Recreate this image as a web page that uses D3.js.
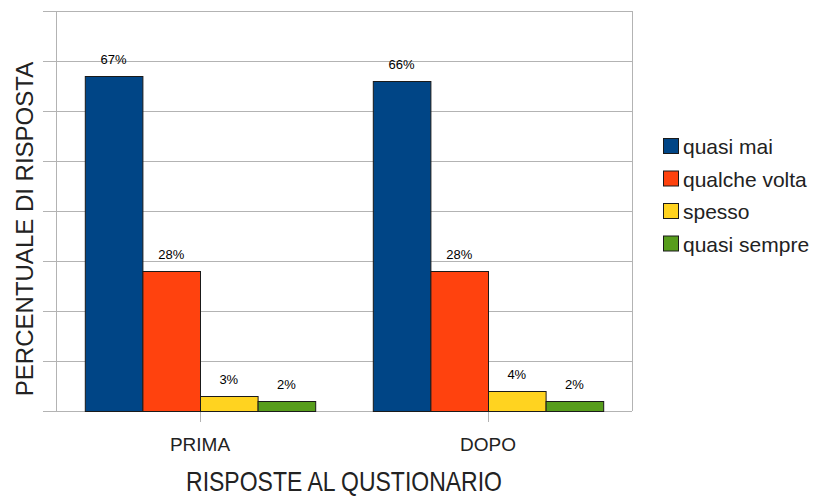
<!DOCTYPE html>
<html>
<head>
<meta charset="utf-8">
<script src="https://cdn.jsdelivr.net/npm/d3@7"></script>
<style>
  body { margin: 0; background: #fff; }
  text { font-family: "Liberation Sans", Arial, sans-serif; }
</style>
</head>
<body>
<script>
const categorie = ['PRIMA', 'DOPO']
const serie = ['quasi mai', 'qualche volta', 'spesso', 'quasi sempre']
const valori = {
  'PRIMA': [67, 28, 3, 2],
  'DOPO': [66, 28, 4, 2]
}
const etichette = {
  'PRIMA': ['67%', '28%', '3%', '2%'],
  'DOPO': ['66%', '28%', '4%', '2%']
}
const colori = ['#004586', '#ff420e', '#ffd320', '#579d1c']
const grigliaY = [0, 10, 20, 30, 40, 50, 60, 70, 80]

const larghezza = 815
const altezza = 496
const area = {sinistra: 56, destra: 632, alto: 11, basso: 411}

const svg = d3.select('body').append('svg')
  .attr('width', larghezza).attr('height', altezza)

const y = d3.scaleLinear().domain([0, 80]).range([area.basso, area.alto])
const x = d3.scaleBand().domain(categorie).range([area.sinistra, area.destra])
const xSerie = d3.scaleBand().domain(serie)
  .range([x.bandwidth() * 0.1, x.bandwidth() * 0.9])

// griglia orizzontale
svg.append('g').selectAll('line')
  .data(grigliaY)
  .join('line')
  .attr('x1', 43).attr('x2', area.destra)
  .attr('y1', d => y(d) + 0.5).attr('y2', d => y(d) + 0.5)
  .attr('stroke', '#b3b3b3').attr('stroke-width', 1)

// bordi verticali
svg.append('line')
  .attr('x1', area.sinistra + 0.5).attr('x2', area.sinistra + 0.5)
  .attr('y1', area.alto).attr('y2', area.basso)
  .attr('stroke', '#b3b3b3')
svg.append('line')
  .attr('x1', area.destra + 0.5).attr('x2', area.destra + 0.5)
  .attr('y1', area.alto).attr('y2', area.basso)
  .attr('stroke', '#b3b3b3')

// tacche asse x
svg.append('g').selectAll('line')
  .data(categorie)
  .join('line')
  .attr('x1', d => x(d) + x.bandwidth() / 2 + 0.5)
  .attr('x2', d => x(d) + x.bandwidth() / 2 + 0.5)
  .attr('y1', area.basso).attr('y2', area.basso + 11)
  .attr('stroke', '#b3b3b3')

// barre
const gruppi = svg.append('g').selectAll('g')
  .data(categorie)
  .join('g')
  .attr('transform', d => 'translate(' + x(d) + ',0)')

gruppi.selectAll('rect')
  .data(c => serie.map((s, i) => ({serie: s, valore: valori[c][i], colore: colori[i]})))
  .join('rect')
  .attr('x', d => xSerie(d.serie) + 0.5)
  .attr('y', d => y(d.valore) + 0.5)
  .attr('width', xSerie.bandwidth())
  .attr('height', d => area.basso - y(d.valore))
  .attr('fill', d => d.colore)
  .attr('stroke', '#1a1a1a')
  .attr('stroke-width', 1)

gruppi.selectAll('text')
  .data(c => serie.map((s, i) => ({serie: s, valore: valori[c][i], testo: etichette[c][i]})))
  .join('text')
  .attr('x', d => xSerie(d.serie) + xSerie.bandwidth() / 2)
  .attr('y', d => y(d.valore) - 12)
  .attr('text-anchor', 'middle')
  .attr('font-size', 13)
  .attr('fill', '#000')
  .text(d => d.testo)

// etichette categorie
svg.append('g').selectAll('text')
  .data(categorie)
  .join('text')
  .attr('x', d => x(d) + x.bandwidth() / 2)
  .attr('y', 451)
  .attr('text-anchor', 'middle')
  .attr('font-size', 19)
  .attr('fill', '#222')
  .text(d => d)

// titoli assi
svg.append('text')
  .attr('transform', 'translate(344,491) scale(1,1.18)')
  .attr('text-anchor', 'middle')
  .attr('font-size', 23)
  .attr('fill', '#222')
  .text('RISPOSTE AL QUSTIONARIO')

svg.append('text')
  .attr('transform', 'translate(33,229) rotate(-90)')
  .attr('text-anchor', 'middle')
  .attr('font-size', 24)
  .attr('fill', '#222')
  .text('PERCENTUALE DI RISPOSTA')

// legenda
const legenda = svg.append('g').selectAll('g')
  .data(serie)
  .join('g')
  .attr('transform', (d, i) => 'translate(663,' + (138 + i * 32.5) + ')')

legenda.append('rect')
  .attr('x', 0.5).attr('y', 0.5)
  .attr('width', 15).attr('height', 15)
  .attr('fill', (d, i) => colori[i])
  .attr('stroke', '#1a1a1a')

legenda.append('text')
  .attr('x', 20).attr('y', 16)
  .attr('font-size', 21)
  .attr('fill', '#222')
  .text(d => d)
</script>
</body>
</html>
